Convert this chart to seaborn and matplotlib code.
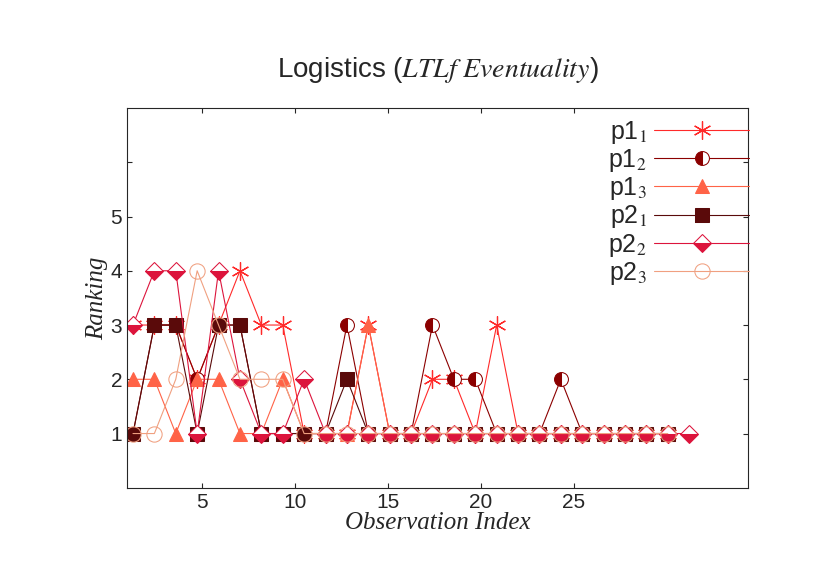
import matplotlib
matplotlib.use('Agg')
import matplotlib.pyplot as plt
import numpy as np
import pandas as pd
import seaborn as sns

sns.set_style('ticks')
plt.rcParams['font.family'] = ['Liberation Sans', 'DejaVu Sans']
plt.rcParams['mathtext.fontset'] = 'stix'

p1_1 = [3, 3, 3, 2, 3, 4, 3, 3, 1, 1, 1, 3, 1, 1, 2, 2, 1, 3, 1, 1, 1, 1, 1, 1, 1, 1]
p1_2 = [1, 3, 3, 2, 3, 3, 1, 1, 1, 1, 3, 1, 1, 1, 3, 2, 2, 1, 1, 1, 2, 1, 1, 1, 1, 1]
p1_3 = [2, 2, 1, 2, 2, 1, 1, 2, 1, 1, 1, 3, 1, 1, 1, 1, 1, 1, 1, 1, 1, 1, 1, 1, 1, 1]
p2_1 = [1, 3, 3, 1, 3, 3, 1, 1, 1, 1, 2, 1, 1, 1, 1, 1, 1, 1, 1, 1, 1, 1, 1, 1, 1, 1]
p2_2 = [3, 4, 4, 1, 4, 2, 1, 1, 2, 1, 1, 1, 1, 1, 1, 1, 1, 1, 1, 1, 1, 1, 1, 1, 1, 1, 1]
p2_3 = [1, 1, 2, 4, 3, 2, 2, 2, 1, 1, 1, 1, 1, 1, 1, 1, 1, 1, 1, 1, 1, 1, 1, 1, 1, 1]
x_tick_labels = [5, 10, 15, 20, 25]

# tick labels in the source use a different scale than the observation index
def tick_pos(v):
    return 0.75 + (v - 1) * 0.869

series = [
    ('p1$_1$', p1_1, '#ff2a2a', dict(marker=(6, 2, 0), markersize=13, markeredgewidth=0.9)),
    ('p1$_2$', p1_2, '#8b0000', dict(marker='o', markersize=10, fillstyle='left',
                                       markerfacecoloralt='white')),
    ('p1$_3$', p1_3, '#ff6347', dict(marker='^', markersize=10)),
    ('p2$_1$', p2_1, '#5a0a0a', dict(marker='s', markersize=10, fillstyle='bottom',
                                       markerfacecoloralt='#5a0a0a')),
    ('p2$_2$', p2_2, '#dc143c', dict(marker='D', markersize=9, fillstyle='bottom',
                                       markerfacecoloralt='white')),
    ('p2$_3$', p2_3, '#f0a080', dict(marker='o', markersize=11, fillstyle='none')),
]

fig = plt.figure(figsize=(8.3, 5.87), dpi=100)
ax = fig.add_axes([0.153, 0.169, 0.748, 0.647])

for name, vals, colour, mk in series:
    df = pd.DataFrame({'x': np.arange(1, len(vals) + 1), 'y': vals})
    sns.lineplot(data=df, x='x', y='y', ax=ax, color=colour, linewidth=0.8,
                 markeredgecolor=colour, label=name, **mk)

ax.set_xlim(0.72, 29.74)
ax.set_ylim(0, 7)
ax.set_xticks([tick_pos(v) for v in x_tick_labels])
ax.set_xticklabels([str(v) for v in x_tick_labels])
ax.set_yticks([1, 2, 3, 4, 5, 6])
ax.set_yticklabels(['1', '2', '3', '4', '5', ''])
ax.tick_params(direction='in', labelsize=15, top=True, right=True)
for s in ax.spines.values():
    s.set_linewidth(0.8)

ax.set_xlabel('Observation Index', fontsize=18, family='Liberation Serif', style='italic', labelpad=0)
ax.set_ylabel('Ranking', fontsize=18, family='Liberation Serif', style='italic', labelpad=2)
ax.set_title(r'Logistics ($\mathit{LTLf\ Eventuality}$)', fontsize=20, pad=22)

ax.legend(loc='upper right', bbox_to_anchor=(0.915, 0.815), bbox_transform=fig.transFigure,
          frameon=False, markerfirst=False, fontsize=18, handlelength=3.8,
          labelspacing=0.05, borderaxespad=0, handletextpad=0.3)

fig.savefig('out.png', dpi=100)
